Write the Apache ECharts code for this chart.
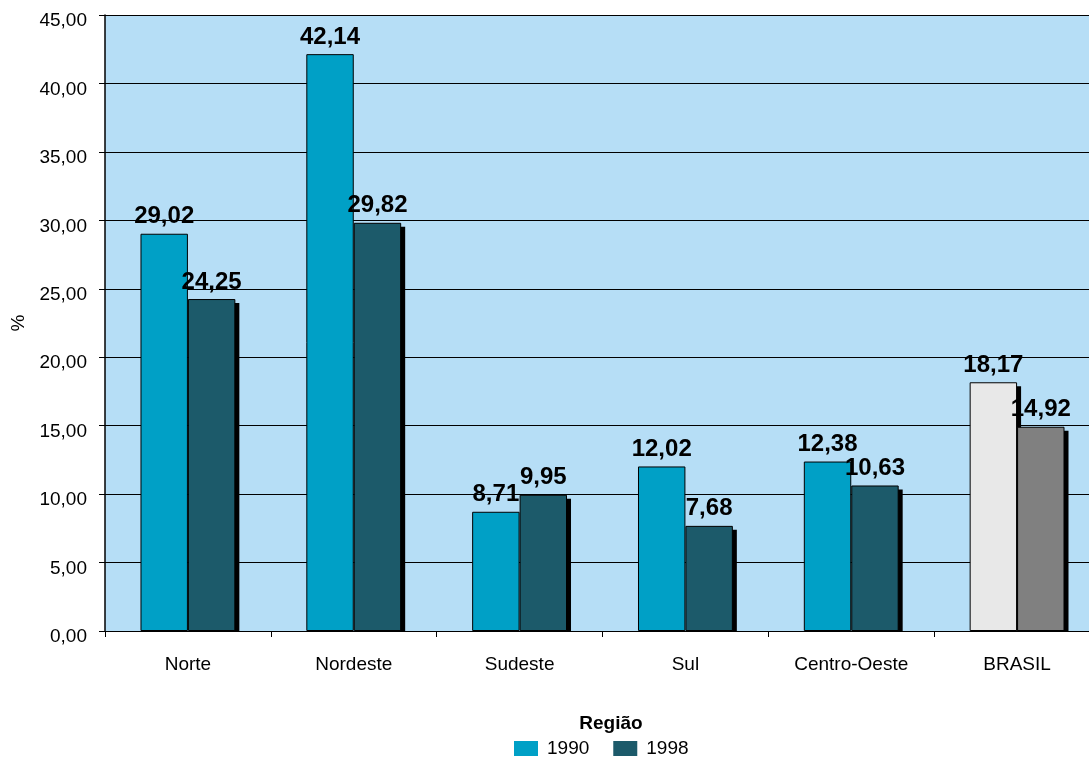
<!DOCTYPE html>
<html><head><meta charset="utf-8">
<script src="https://cdn.jsdelivr.net/npm/echarts@6/dist/echarts.min.js"></script>
<style>html,body{margin:0;padding:0;background:#fff}#c{width:1089px;height:758px}</style>
</head><body><div id="c"></div>
<script>
const categories = ['Norte','Nordeste','Sudeste','Sul','Centro-Oeste','BRASIL'];
const values1990 = [29.02, 42.14, 8.71, 12.02, 12.38, 18.17];
const values1998 = [24.25, 29.82, 9.95, 7.68, 10.63, 14.92];
const yTicks = [0,5,10,15,20,25,30,35,40,45];

const FONT = '"Liberation Sans", Arial, sans-serif';
const C1990 = '#00A0C6', C1998 = '#1C5A6A';
const B1990 = '#E8E8E8', B1998 = '#808080';
const BAR_FRAC = 0.286;
const fmt = v => v.toFixed(2).replace('.', ',');

const chart = echarts.init(document.getElementById('c'), null, {renderer:'canvas'});
const lbl = {show:true, position:'top', distance:5, color:'#000', fontFamily:FONT, fontWeight:'bold', fontSize:24,
  formatter: p => fmt(p.value)};

// shadow data: [categoryIndex, value, side] side 0 = 1990 (left), 1 = 1998 (right)
const shadowData = values1998.map((v,i)=>[i, v, 1]);
shadowData.push([5, values1990[5], 0]);

chart.setOption({
  animation:false,
  backgroundColor:'#fff',
  grid:{left:105, top:15, width:995, height:616, backgroundColor:'#B6DEF6', show:true, borderWidth:0,
    containLabel:false, outerBoundsMode:'none'},
  title:{text:'Região', left:606, textAlign:'center', top:709,
    textStyle:{fontFamily:FONT, fontWeight:'bold', fontSize:19, color:'#000'}},
  legend:{top:734, left:509, itemWidth:24, itemHeight:15, itemGap:24,
    itemStyle:{borderWidth:0},
    textStyle:{fontFamily:FONT, fontSize:19, color:'#000', padding:[0,0,0,4]},
    data:[{name:'1990', icon:'rect'},{name:'1998', icon:'rect'}]},
  xAxis:{type:'category', data:categories,
    axisLine:{lineStyle:{color:'#000', width:1}},
    axisTick:{show:true, length:6, lineStyle:{color:'#000'}},
    axisLabel:{fontFamily:FONT, fontSize:19, color:'#000', margin:24}},
  yAxis:{type:'value', min:0, max:45, interval:5, name:'%', nameLocation:'middle', nameGap:77,
    nameTextStyle:{fontFamily:FONT, fontSize:19, color:'#000'},
    axisLine:{show:true, lineStyle:{color:'#000', width:1.5}},
    axisTick:{show:true, length:6, lineStyle:{color:'#000'}},
    axisLabel:{fontFamily:FONT, fontSize:19, color:'#000', margin:18, verticalAlign:'top', lineHeight:12,
      formatter: v => fmt(v)},
    splitLine:{lineStyle:{color:'#000', width:1.2}}},
  series:[
    {name:'shadow', type:'custom', z:1, silent:true, legendHoverLink:false,
     data: shadowData,
     encode:{x:0, y:1},
     renderItem: (params, api) => {
       const idx = api.value(0), val = api.value(1), side = api.value(2);
       const band = api.size([1,0])[0];
       const c = api.coord([idx, val]);
       const base = api.coord([idx, 0]);
       const w = band * BAR_FRAC;
       const x0 = side === 1 ? c[0] : c[0] - w;
       return {type:'rect', shape:{x:x0+4, y:c[1]+4, width:w, height:base[1]-c[1]-4},
         style:{fill:'#000'}};
     }},
    {name:'1990', type:'bar', barWidth:(BAR_FRAC*100)+'%', barGap:'0%',
     itemStyle:{color:C1990, borderColor:'#000', borderWidth:1},
     label:lbl, z:2,
     data: values1990.map((v,i)=> i===5 ? {value:v, itemStyle:{color:B1990}} : v)},
    {name:'1998', type:'bar', barWidth:(BAR_FRAC*100)+'%', barGap:'0%',
     itemStyle:{color:C1998, borderColor:'#000', borderWidth:1},
     label:lbl, z:3,
     data: values1998.map((v,i)=> i===5 ? {value:v, itemStyle:{color:B1998}} : v)}
  ]
});
</script></body></html>
